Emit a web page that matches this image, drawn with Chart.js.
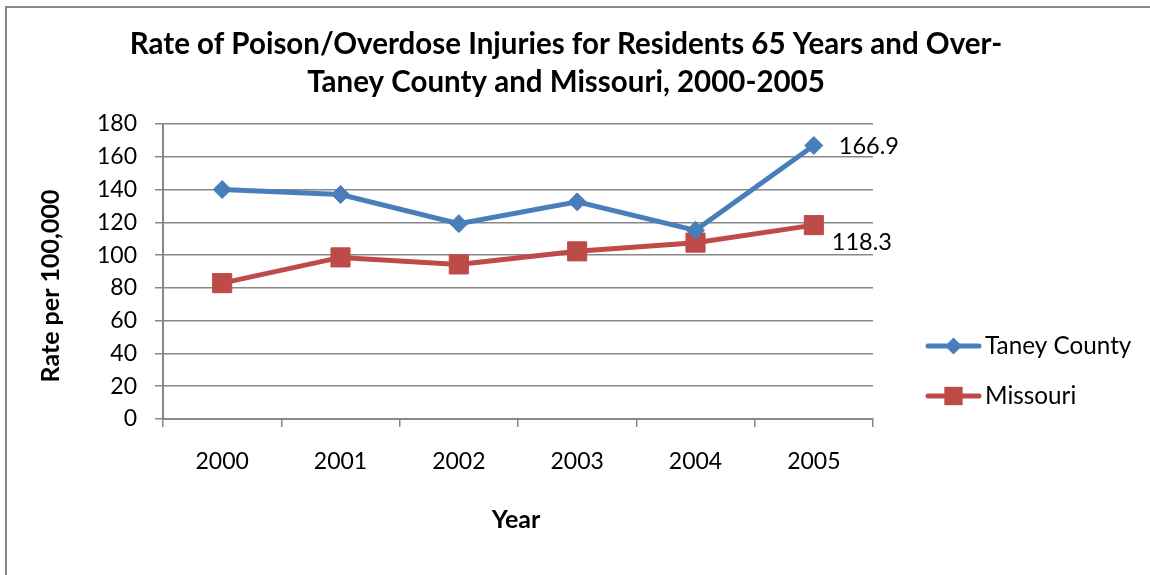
<!DOCTYPE html>
<html><head><meta charset="utf-8">
<script src="https://cdn.jsdelivr.net/npm/chart.js@4.4.1/dist/chart.umd.min.js"></script>
<style>html,body{margin:0;padding:0;background:#fff;}#wrap{position:relative;width:1150px;height:575px;}</style>
</head><body><div id="wrap"><canvas id="c" width="1150" height="575"></canvas></div>
<script>
const years = ['2000', '2001', '2002', '2003', '2004', '2005'];
const taneyCounty = [140.0, 137.0, 119.2, 132.5, 115.1, 166.9];
const missouri = [82.9, 98.6, 94.3, 102.3, 107.6, 118.3];
const seriesNames = ['Taney County', 'Missouri'];
const yMin = 0, yMax = 180, yStep = 20;
const titleLines = ['Rate of Poison/Overdose Injuries for Residents 65 Years and Over-', 'Taney County and Missouri, 2000-2005'];
const yTitle = 'Rate per 100,000';
const xTitle = 'Year';

const BLUE = '#4a7ebb', RED = '#be4b48', GRID = '#888888';
const FONT = 'Lato, "Open Sans", sans-serif';

function marker(ctx, style, x, y, r, color) {
  ctx.save();
  ctx.fillStyle = color; ctx.beginPath();
  if (style === 'rectRot') {
    ctx.moveTo(x - r, y); ctx.lineTo(x, y - r); ctx.lineTo(x + r, y); ctx.lineTo(x, y + r);
  } else {
    const s = Math.SQRT1_2 * r; ctx.rect(x - s, y - s, 2 * s, 2 * s);
  }
  ctx.closePath(); ctx.fill(); ctx.restore();
}

const decor = {
  id: 'decor',
  beforeDraw(chart) {
    const ctx = chart.ctx;
    ctx.save();
    ctx.fillStyle = '#fff'; ctx.fillRect(0, 0, chart.width, chart.height);
    ctx.strokeStyle = '#898989'; ctx.lineWidth = 2;
    ctx.beginPath(); ctx.moveTo(6, 600); ctx.lineTo(6, 7); ctx.lineTo(1200, 7); ctx.stroke();
    ctx.restore();
  },
  afterDraw(chart) {
    const ctx = chart.ctx;
    ctx.save();
    ctx.fillStyle = '#000';
    // title
    ctx.font = 'bold 29.5px ' + FONT; ctx.textAlign = 'center'; ctx.textBaseline = 'alphabetic';
    ctx.fillText(titleLines[0], 566, 54);
    ctx.fillText(titleLines[1], 566, 92);
    // axis titles
    ctx.font = 'bold 25px ' + FONT; ctx.textBaseline = 'middle';
    ctx.fillText(xTitle, 516, 520);
    ctx.save(); ctx.translate(51, 286); ctx.rotate(-Math.PI / 2); ctx.fillText(yTitle, 0, 0); ctx.restore();
    // data labels for last points
    ctx.font = '23.5px ' + FONT; ctx.textAlign = 'left';
    const m0 = chart.getDatasetMeta(0).data, m1 = chart.getDatasetMeta(1).data;
    const p0 = m0[m0.length - 1], p1 = m1[m1.length - 1];
    ctx.fillText(taneyCounty[taneyCounty.length - 1].toFixed(1), p0.x + 25, p0.y + 1);
    ctx.fillText(missouri[missouri.length - 1].toFixed(1), p1.x + 18, p1.y + 17);
    // legend
    const items = [[seriesNames[0], BLUE, 'rectRot', 8.5, 346], [seriesNames[1], RED, 'rect', 13, 396]];
    items.forEach(([name, col, st, r, y]) => {
      ctx.strokeStyle = col; ctx.lineWidth = 5; ctx.lineCap = 'round';
      ctx.beginPath(); ctx.moveTo(928, y); ctx.lineTo(979, y); ctx.stroke();
      marker(ctx, st, 953.5, y, r, col);
      ctx.fillStyle = '#000'; ctx.font = '24.3px ' + FONT; ctx.textAlign = 'left';
      ctx.fillText(name, 985, y);
    });
    ctx.restore();
  }
};

new Chart(document.getElementById('c'), {
  type: 'line',
  data: {
    labels: years,
    datasets: [
      { label: seriesNames[0], data: taneyCounty, borderColor: BLUE, backgroundColor: BLUE, borderWidth: 5,
        pointStyle: 'rectRot', pointRadius: 9, pointBorderWidth: 1, pointBorderColor: BLUE, pointBackgroundColor: BLUE, tension: 0 },
      { label: seriesNames[1], data: missouri, borderColor: RED, backgroundColor: RED, borderWidth: 5,
        pointStyle: 'rect', pointRadius: 13.5, pointBorderWidth: 1, pointBorderColor: RED, pointBackgroundColor: RED, tension: 0 }
    ]
  },
  options: {
    responsive: false, animation: false, events: [],
    layout: { padding: { top: 124, right: 277, left: 0, bottom: 0 } },
    plugins: { legend: { display: false }, title: { display: false }, tooltip: { enabled: false } },
    scales: {
      x: {
        type: 'category', offset: true,
        afterFit: s => { s.height = 156; },
        grid: { offset: true, drawOnChartArea: false, drawTicks: true, tickLength: 8, color: GRID, lineWidth: 1.5 },
        border: { display: true, color: GRID, width: 2 },
        ticks: { color: '#000', font: { family: FONT, size: 23 }, padding: 21, maxRotation: 0 }
      },
      y: {
        min: yMin, max: yMax,
        afterFit: s => { s.width = 163; },
        grid: { drawTicks: true, tickLength: 8, color: GRID, lineWidth: 1.5 },
        border: { display: true, color: GRID, width: 2 },
        ticks: { stepSize: yStep, color: '#000', font: { family: FONT, size: 23 }, padding: 18 }
      }
    }
  },
  plugins: [decor]
});
</script></body></html>
